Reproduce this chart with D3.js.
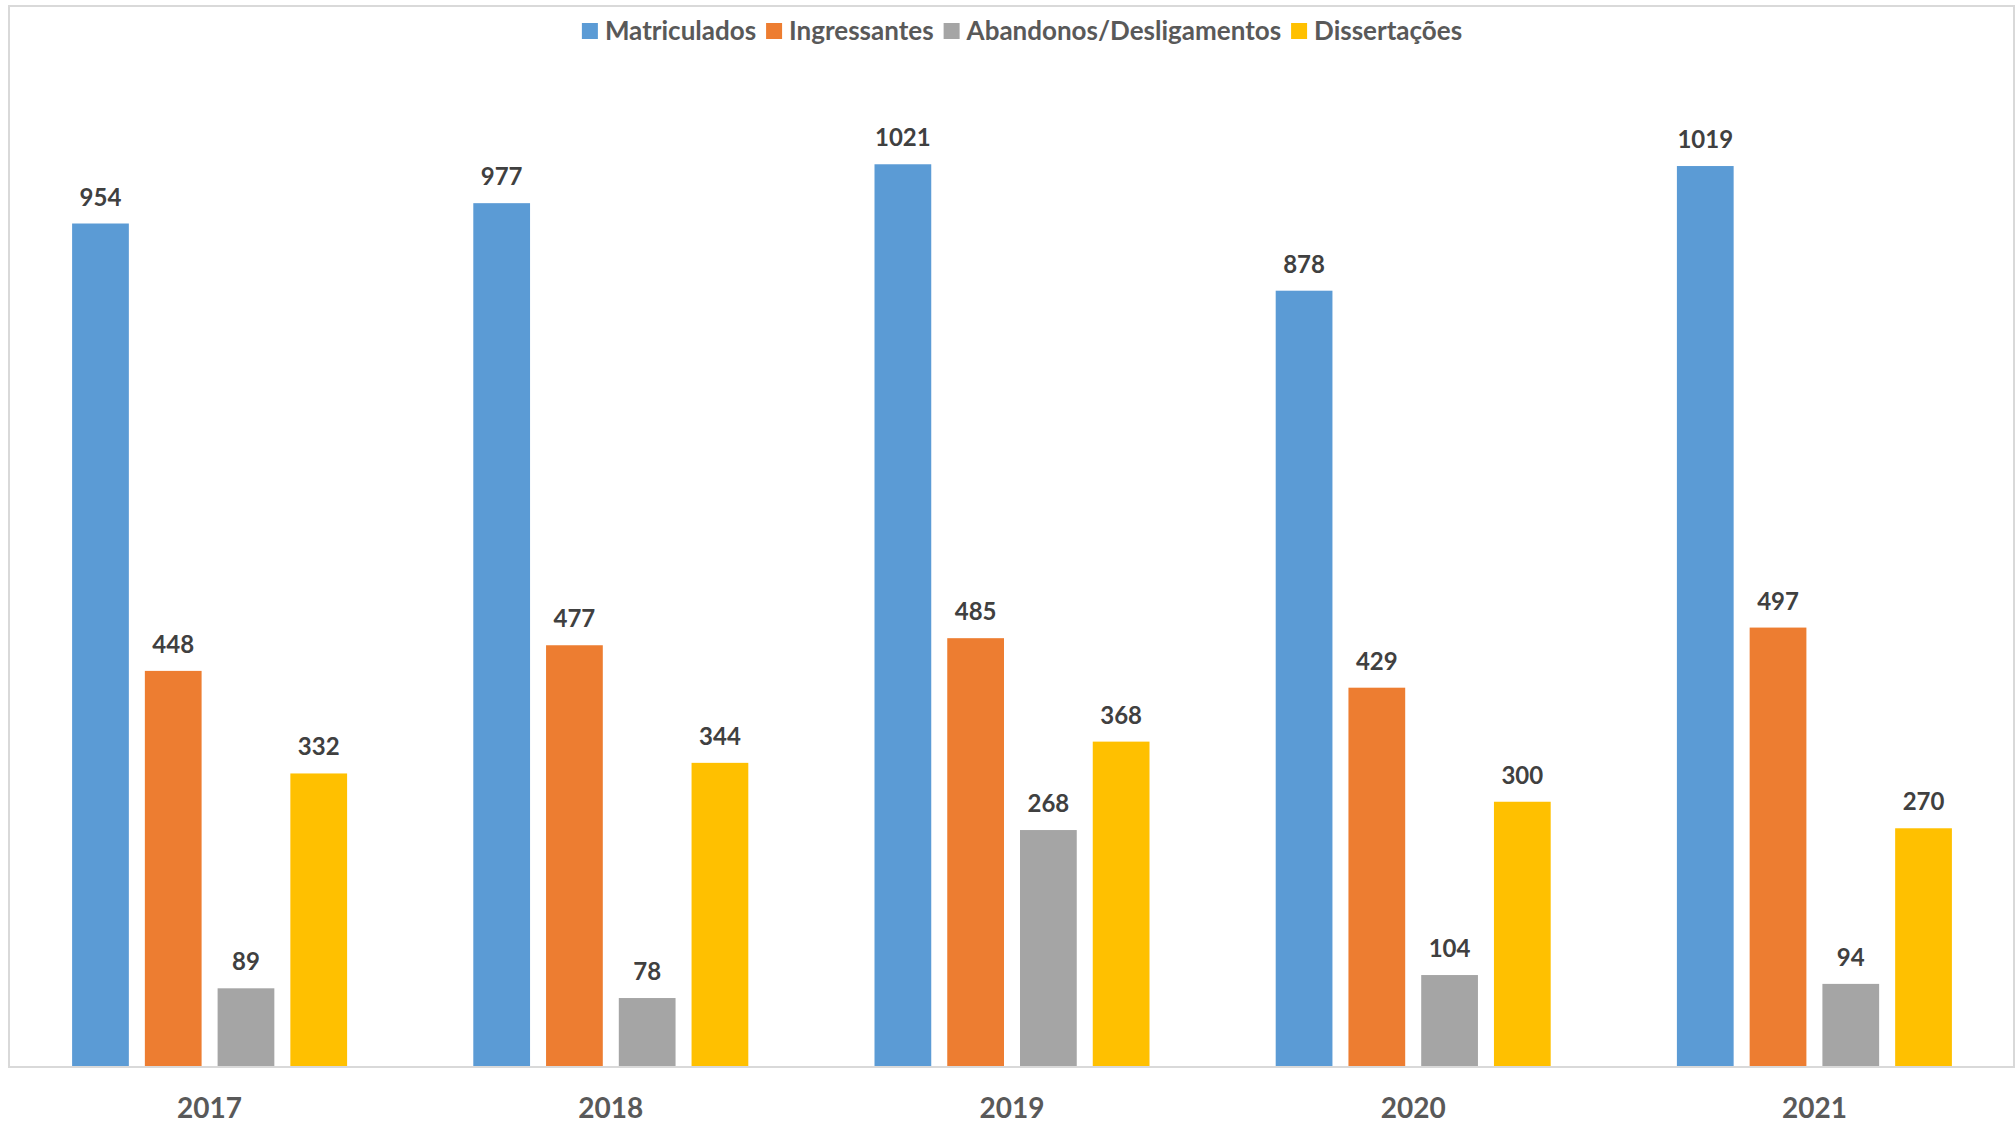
<!DOCTYPE html>
<html>
<head>
<meta charset="utf-8">
<script src="https://cdn.jsdelivr.net/npm/d3@7"></script>
<style>
  body { margin: 0; background: #fff; }
  svg { display: block; }
  text { font-family: Lato, "Open Sans", sans-serif; font-weight: bold; }
</style>
</head>
<body>
<svg class="chart"></svg>
<script>

//
// data
//

var years = ["2017", "2018", "2019", "2020", "2021"];
var series = ["Matriculados", "Ingressantes", "Abandonos/Desligamentos", "Dissertações"];
var matriculados = [954, 977, 1021, 878, 1019];
var ingressantes = [448, 477, 485, 429, 497];
var abandonos = [89, 78, 268, 104, 94];
var dissertacoes = [332, 344, 368, 300, 270];
var colors = ["#5b9bd5", "#ed7d31", "#a5a5a5", "#ffc000"];

var values = [matriculados, ingressantes, abandonos, dissertacoes];

//
// layout
//

var width = 2015, height = 1125;
var plot = { left: 9, right: 2014, top: 6, bottom: 1067 };

var svg = d3.select(".chart")
    .attr("width", width)
    .attr("height", height);

var x0 = d3.scaleBand()
    .domain(years)
    .range([plot.left, width]);

var groupWidth = 275;
var outer = (x0.bandwidth() - groupWidth) / 2;

var x1 = d3.scaleBand()
    .domain(series)
    .range([outer, outer + groupWidth])
    .paddingInner(0.22);

var y = d3.scaleLinear()
    .domain([0, 1200])
    .range([plot.bottom, plot.top]);

// frame
svg.append("rect")
    .attr("x", plot.left)
    .attr("y", plot.top)
    .attr("width", plot.right - plot.left)
    .attr("height", plot.bottom - plot.top)
    .attr("fill", "none")
    .attr("stroke", "#d9d9d9")
    .attr("stroke-width", 2);

//
// bars
//

var rows = years.map(function (yr, i) {
    return series.map(function (s, j) {
        return { year: yr, series: s, value: values[j][i], color: colors[j] };
    });
});

var groups = svg.selectAll("g.year")
    .data(rows)
    .enter().append("g")
    .attr("class", "year")
    .attr("transform", function (d, i) {
        return "translate(" + x0(years[i]) + ",0)";
    });

groups.selectAll("rect")
    .data(function (d) { return d; })
    .enter().append("rect")
    .attr("x", function (d) { return x1(d.series); })
    .attr("y", function (d) { return y(d.value); })
    .attr("width", x1.bandwidth())
    .attr("height", function (d) { return y(0) - y(d.value); })
    .attr("fill", function (d) { return d.color; });

// value labels
groups.selectAll("text")
    .data(function (d) { return d; })
    .enter().append("text")
    .attr("x", function (d) { return x1(d.series) + x1.bandwidth() / 2; })
    .attr("y", function (d) { return y(d.value) - 18; })
    .attr("text-anchor", "middle")
    .attr("font-size", 24)
    .attr("fill", "#404040")
    .text(function (d) { return d.value; });

// baseline over the bars
svg.append("line")
    .attr("x1", plot.left)
    .attr("x2", plot.right)
    .attr("y1", plot.bottom)
    .attr("y2", plot.bottom)
    .attr("stroke", "#d9d9d9")
    .attr("stroke-width", 2);

// x axis labels
var xAxis = svg.append("g")
    .attr("transform", "translate(0," + plot.bottom + ")")
    .call(d3.axisBottom(x0).tickSize(0).tickPadding(0));
xAxis.select(".domain").remove();
xAxis.selectAll("text")
    .attr("y", 51)
    .attr("dy", 0)
    .attr("font-size", 28)
    .attr("fill", "#595959");

//
// legend
//

var legend = svg.append("g");
var lx = 0;
series.forEach(function (s, j) {
    var item = legend.append("g").attr("transform", "translate(" + lx + ",0)");
    item.append("rect")
        .attr("x", 0)
        .attr("y", 23)
        .attr("width", 16)
        .attr("height", 16)
        .attr("fill", colors[j]);
    var t = item.append("text")
        .attr("x", 23)
        .attr("y", 40)
        .attr("font-size", 26)
        .attr("fill", "#595959")
        .text(s);
    lx += 23 + t.node().getComputedTextLength() + 10;
});
var legendWidth = lx - 10;
legend.attr("transform", "translate(" + (1022 - legendWidth / 2) + ",0)");

</script>
</body>
</html>
